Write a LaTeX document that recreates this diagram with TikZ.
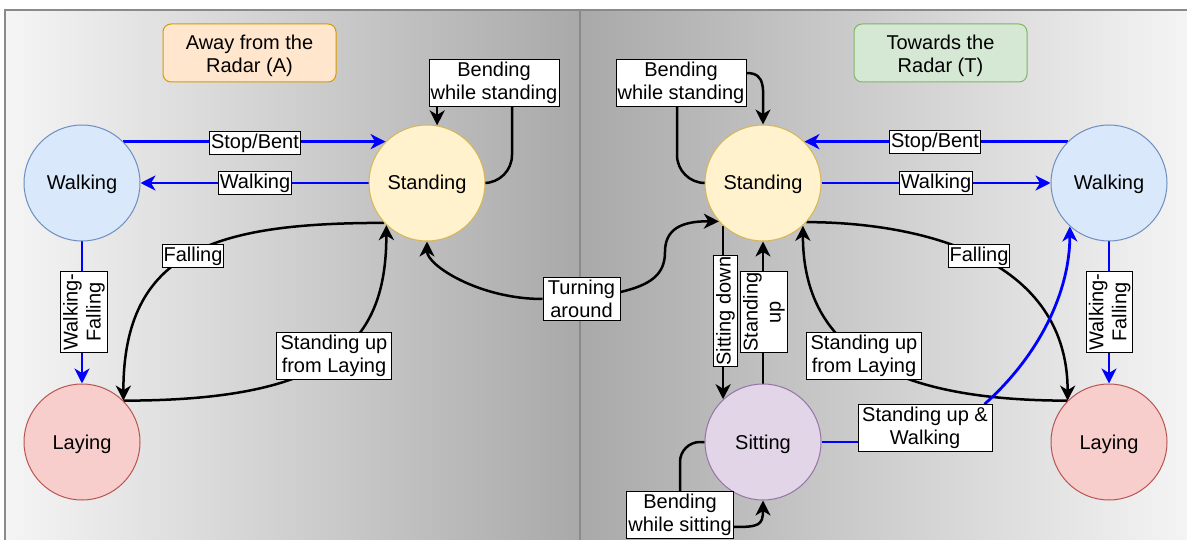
\documentclass[tikz,border=0pt]{standalone}
\usepackage{fontspec}
\setmainfont{Liberation Sans}
\usetikzlibrary{arrows.meta,calc}
\pgfdeclarelayer{bg}
\pgfdeclarelayer{edges}
\pgfsetlayers{bg,edges,main}
\definecolor{bgl}{HTML}{F5F5F5}
\definecolor{bgd}{HTML}{A9A9A9}
\definecolor{frm}{HTML}{8A8A8A}
\definecolor{wkf}{HTML}{DAE8FC}\definecolor{wkd}{HTML}{6C8EBF}
\definecolor{stf}{HTML}{FFF2CC}\definecolor{std}{HTML}{D6B656}
\definecolor{lyf}{HTML}{F8CECC}\definecolor{lyd}{HTML}{B85450}
\definecolor{sif}{HTML}{E1D5E7}\definecolor{sid}{HTML}{9673A6}
\definecolor{taf}{HTML}{FFE6CC}\definecolor{tad}{HTML}{D79B00}
\definecolor{ttf}{HTML}{D5E8D4}\definecolor{ttd}{HTML}{82B366}
\definecolor{edgeblue}{HTML}{0000FF}
\begin{document}
\begin{tikzpicture}[x=1pt,y=-1pt,
  font=\fontsize{20}{23}\selectfont,
  state/.style={circle,minimum size=116pt,inner sep=0pt,line width=1pt,text height=18pt,text depth=4pt},
  titlebox/.style={rounded corners=8pt,minimum width=173pt,minimum height=58pt,line width=1pt,inner sep=0pt},
  titletext/.style={align=center,inner sep=0pt},
  lbl/.style={fill=white,draw=black,line width=1pt,inner xsep=1.5pt,inner ysep=2.5pt,align=center},
  vlbl/.style={lbl,rotate=90},
  tip/.style={-{Stealth[length=15pt,width=15pt,inset=4.5pt]}},
  bedge/.style={line width=2.5pt,black},
  uedge/.style={line width=2.8pt,edgeblue},
]
\useasboundingbox (0,0) rectangle (1187,540);

\begin{pgfonlayer}{bg}
\shade[left color=bgl,right color=bgd] (5,10) rectangle (580,560);
\shade[left color=bgd,right color=bgl] (580,10) rectangle (1195,560);
\draw[frm,line width=2pt] (5,560) -- (5,10) -- (1200,10);
\draw[frm,line width=2pt] (580,10) -- (580,560);
\end{pgfonlayer}

% states
\node[state,fill=wkf,draw=wkd] (WL) at (82,183) {Walking};
\node[state,fill=stf,draw=std] (SL) at (427,183) {Standing};
\node[state,fill=lyf,draw=lyd] (LL) at (82,442) {Laying};
\node[state,fill=stf,draw=std] (SR) at (763,183) {Standing};
\node[state,fill=wkf,draw=wkd] (WR) at (1109,183) {Walking};
\node[state,fill=lyf,draw=lyd] (LR) at (1109,442) {Laying};
\node[state,fill=sif,draw=sid] (Sit) at (763,442) {Sitting};
\node[titlebox,fill=taf,draw=tad] (tA) at (249.5,53) {};
\node[titletext] (tAt) at ([yshift=-2.5pt]tA.center) {Away from the\\Radar (A)};
\node[titlebox,fill=ttf,draw=ttd] (tT) at (940.5,53) {};
\node[titletext] (tTt) at ([yshift=-2.5pt]tT.center) {Towards the\\Radar (T)};

% labels
\node[lbl] (lsbL) at (255,143) {Stop/Bent};
\node[lbl] (lwkL) at (255,183) {Walking};
\node[lbl,minimum width=130pt] (bsL) at (494,83) {Bending\\while standing};
\node[lbl] (fallL) at (193,256) {Falling};
\node[lbl,minimum width=115pt] (suL) at (334,356) {Standing up\\from Laying};
\node[vlbl] (wfL) at (84,312) {Walking-\\Falling};
\node[lbl,minimum width=77pt] (turn) at (581.5,299) {Turning\\around};
\node[lbl] (lsbR) at (935,142) {Stop/Bent};
\node[lbl] (lwkR) at (936,183) {Walking};
\node[lbl,minimum width=130pt] (bsR) at (681,83) {Bending\\while standing};
\node[lbl] (fallR) at (979,256) {Falling};
\node[lbl,minimum width=115pt] (suR) at (864,356) {Standing up\\from Laying};
\node[vlbl] (sitd) at (725.5,311) {Sitting down};
\node[vlbl] (stup) at (764,312) {Standing\\up};
\node[vlbl] (wfR) at (1109.6,312) {Walking-\\Falling};
\node[lbl,minimum width=134pt] (suw) at (925,428) {Standing up \&\\Walking};
\node[lbl] (bsit) at (680,515) {Bending\\while sitting};

\begin{pgfonlayer}{edges}
% left panel
\draw[uedge,tip] (WL.45) -- (SL.135);
\draw[uedge,tip] (SL.west) -- (WL.east);
\draw[bedge,rounded corners=28pt] (SL.east) -| ([xshift=18pt]bsL.south);
\draw[bedge,tip] (bsL.south -| SL.80) -- (SL.80);
\draw[bedge,tip] (SL.223) .. controls +(-170,0) and +(0,-150) .. (LL.45);
\draw[bedge,tip] (LL.45) .. controls +(212,0) and +(0,116) .. (SL.226);
\draw[uedge,tip] (WL.south) -- (LL.north);
% turning around
\draw[bedge,tip] (turn.west) .. controls +(-63,0) and +(0,24) .. (SL.south);
\draw[bedge,tip] ([yshift=7pt]turn.east) .. controls (650,285) and (665,275) .. (665,252) .. controls (665,230) and (680,221) .. (SR.221);
% right panel
\draw[uedge,tip] (WR.135) -- (SR.45);
\draw[uedge,tip] (SR.east) -- (WR.west);
\draw[bedge,rounded corners=28pt] (SR.west) -| ([xshift=-4pt]bsR.south);
\draw[bedge,tip] ([yshift=10pt]bsR.east) .. controls +(20,0) and +(0,-35) .. (SR.north);
\draw[bedge,tip] (SR.227) -- (Sit.133);
\draw[bedge,tip] (Sit.north) -- (SR.south);
\draw[bedge,tip] (SR.318) .. controls +(100,0) and +(0,-150) .. (LR.135);
\draw[bedge,tip] (LR.135) .. controls +(-190,0) and +(0,115) .. (SR.313);
\draw[uedge,tip] (WR.south) -- (LR.north);
\draw[uedge] (Sit.east) -- (Sit.east -| suw.west);
\draw[uedge,tip] ([xshift=-8pt]suw.north east) .. controls +(56,-50) and +(0,64) .. (WR.228);
\draw[bedge,rounded corners=20pt] (Sit.west) -| (bsit.north);
\draw[bedge,tip] ([yshift=-12pt]bsit.east) .. controls +(25,0) and +(0,25) .. (Sit.south);
\end{pgfonlayer}
\end{tikzpicture}
\end{document}
